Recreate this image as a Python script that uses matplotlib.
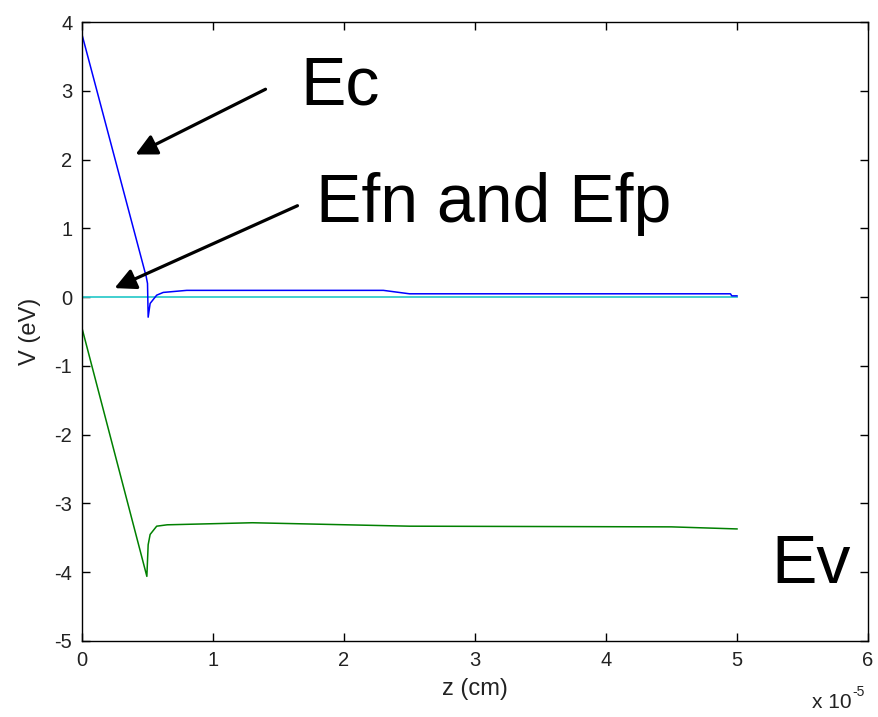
import numpy as np
import matplotlib.pyplot as plt

plt.rcParams['font.family'] = ['Liberation Sans', 'DejaVu Sans']
plt.rcParams['axes.unicode_minus'] = False

# position along z, in units of 1e-5 cm
z_ec = [0.0, 0.49, 0.50, 0.505, 0.52, 0.57, 0.62, 0.80, 2.30, 2.50, 4.95, 4.96, 5.0]
ec = [3.82, 0.30, 0.20, -0.29, -0.09, 0.03, 0.07, 0.10, 0.10, 0.05, 0.05, 0.02, 0.02]

z_ef = [0.0, 5.0]
ef = [0.0, 0.0]

z_ev = [0.0, 0.495, 0.505, 0.52, 0.57, 0.65, 1.30, 2.50, 4.50, 5.0]
ev = [-0.45, -4.06, -3.60, -3.45, -3.33, -3.31, -3.28, -3.33, -3.34, -3.37]

xticks = [0, 1, 2, 3, 4, 5, 6]
yticks = [-5, -4, -3, -2, -1, 0, 1, 2, 3, 4]

fig = plt.figure(figsize=(8.79, 7.17), dpi=100)
ax = fig.add_axes([0.0933, 0.106, 0.8942, 0.863])

ax.plot(z_ef, ef, color='#33cccc', lw=1.3)
ax.plot(z_ec, ec, color='#0000ff', lw=1.1)
ax.plot(z_ev, ev, color='#008000', lw=1.1)

ax.set_xlim(0, 6)
ax.set_ylim(-5, 4)
ax.set_xticks(xticks)
ax.set_yticks(yticks)
ax.tick_params(direction='in', top=True, right=True, length=6, labelsize=14.5,
               width=1, labelcolor='#222222')
ax.tick_params(axis='x', pad=7)
ax.tick_params(axis='y', pad=7)
for s in ax.spines.values():
    s.set_linewidth(1)
ax.set_xlabel('z (cm)', fontsize=17, labelpad=6, color='#222222')
ax.set_ylabel('V (eV)', fontsize=17, labelpad=10, color='#222222')

# exponent label, matlab style
fig.text(0.924, 0.012, 'x 10', fontsize=15, color='#222222')
fig.text(0.970, 0.029, '-5', fontsize=10, color='#222222')

# annotations
arrow = dict(arrowstyle='-|>', color='black', lw=2.3, mutation_scale=32)
ax.text((300 - 82) / 131, 4 - (105 - 22) / 69, 'Ec', fontsize=49)
ax.annotate('', xy=((133 - 82) / 131, 4 - (156 - 22) / 69),
            xytext=((268 - 82) / 131, 4 - (88 - 22) / 69), arrowprops=arrow)
ax.text((316 - 82) / 131, 4 - (222 - 22) / 69, 'Efn and Efp', fontsize=49)
ax.annotate('', xy=((112 - 82) / 131, 4 - (290 - 22) / 69),
            xytext=((300 - 82) / 131, 4 - (205 - 22) / 69), arrowprops=arrow)
ax.text((771 - 82) / 131, 4 - (585 - 22) / 69, 'Ev', fontsize=49)

fig.savefig('out.png', dpi=100)
